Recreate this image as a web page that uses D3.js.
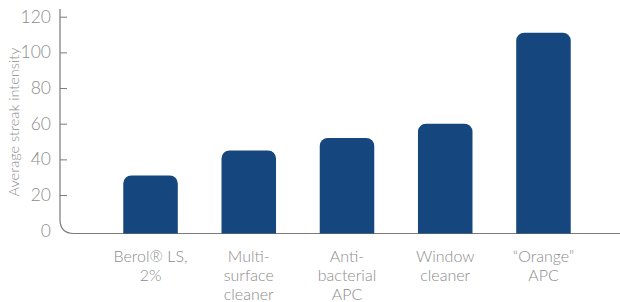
<!DOCTYPE html>
<html>
<head>
<meta charset="utf-8">
<script src="https://cdn.jsdelivr.net/npm/d3@7"></script>
<style>
  body { margin: 0; background: #fff; }
  text { font-family: Lato, "Open Sans", sans-serif; font-weight: 300; fill: #8c8c8c; }
</style>
</head>
<body>
<div id="chart"></div>
<script>
// data
const categories = ['Berol® LS, 2%', 'Multi-surface cleaner', 'Anti-bacterial APC', 'Window cleaner', '“Orange” APC']
const categoryLines = [
  ['Berol® LS,', '2%'],
  ['Multi-', 'surface', 'cleaner'],
  ['Anti-', 'bacterial', 'APC'],
  ['Window', 'cleaner'],
  ['“Orange”', 'APC']
]
const streakValues = [31, 45, 52, 60, 111]
const yTicks = [0, 20, 40, 60, 80, 100, 120]
const yTitle = 'Average streak intensity'

const width = 620, height = 302
const axisX = 60, axisTop = 9, baseY = 233.5, cornerR = 14

const svg = d3.select('#chart').append('svg')
  .attr('width', width)
  .attr('height', height)

const x = d3.scaleBand()
  .domain(categories)
  .range([axisX, 634])
  .paddingInner(0.445)
  .paddingOuter(0.644)

const y = d3.scaleLinear()
  .domain([0, 120])
  .range([230.7, 16.7])

// y axis ticks + labels (ticks point inwards)
const yAxis = d3.axisLeft(y).tickValues(yTicks).tickSize(-7).tickPadding(9)
const gy = svg.append('g')
  .attr('transform', 'translate(' + axisX + ',0)')
  .call(yAxis)
gy.select('.domain').remove()
gy.selectAll('.tick line').attr('stroke', '#7a7a7a').attr('stroke-width', 1)
  .filter(d => d === 0).remove()
gy.selectAll('.tick text')
  .style('font-size', '17.5px')
  .style('font-family', 'Lato, "Open Sans", sans-serif')
  .attr('fill', '#999')

// axis line with rounded corner
const p = d3.path()
p.moveTo(axisX, axisTop)
p.lineTo(axisX, baseY - cornerR)
p.quadraticCurveTo(axisX, baseY, axisX + cornerR, baseY)
p.lineTo(width, baseY)
svg.append('path')
  .attr('d', p.toString())
  .attr('fill', 'none')
  .attr('stroke', '#7a7a7a')
  .attr('stroke-width', 1.2)

// bars, rounded top corners
const r = 8
svg.selectAll('.bar')
  .data(streakValues)
  .enter()
  .append('path')
  .attr('class', 'bar')
  .attr('fill', '#15477e')
  .attr('d', (d, i) => {
    const x0 = x(categories[i]), w = x.bandwidth(), top = y(d), bot = baseY
    const bp = d3.path()
    bp.moveTo(x0, bot)
    bp.lineTo(x0, top + r)
    bp.arcTo(x0, top, x0 + r, top, r)
    bp.lineTo(x0 + w - r, top)
    bp.arcTo(x0 + w, top, x0 + w, top + r, r)
    bp.lineTo(x0 + w, bot)
    bp.closePath()
    return bp.toString()
  })

// category labels
svg.selectAll('.xlab')
  .data(categoryLines)
  .enter()
  .append('text')
  .attr('class', 'xlab')
  .attr('text-anchor', 'middle')
  .style('font-size', '16px')
  .attr('x', (d, i) => x(categories[i]) + x.bandwidth() / 2)
  .attr('y', 262)
  .each(function (lines) {
    const t = d3.select(this)
    const cx = t.attr('x')
    lines.forEach((line, k) => {
      t.append('tspan').attr('x', cx).attr('dy', k === 0 ? 0 : 19).text(line)
    })
  })

// y title
svg.append('text')
  .attr('transform', 'translate(19,122) rotate(-90)')
  .attr('text-anchor', 'middle')
  .style('font-size', '14.5px')
  .text(yTitle)
</script>
</body>
</html>
